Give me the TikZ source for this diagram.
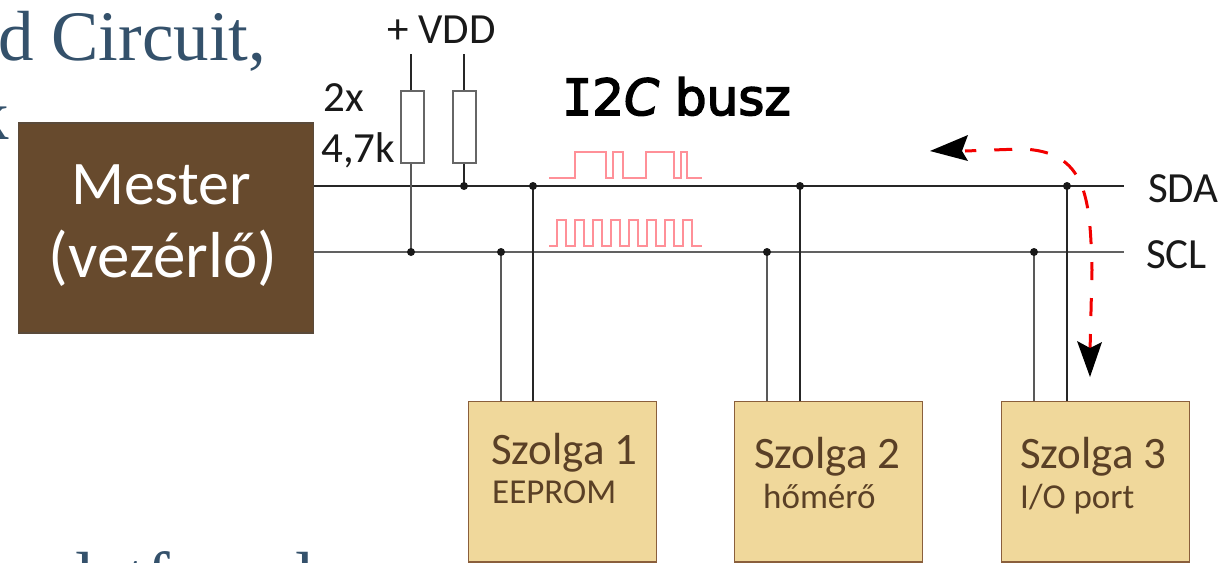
\documentclass[tikz,border=0pt]{standalone}
\usepackage{fontspec}
\setmainfont{Carlito}
\newfontfamily\serifbg{Liberation Serif}
\newfontfamily\comicf[FakeBold=3]{DejaVu Sans}
\newfontfamily\comicm[FakeBold=3]{DejaVu Sans Mono}
\definecolor{bgtext}{HTML}{34516B}
\definecolor{master}{HTML}{674A2D}
\definecolor{masterline}{HTML}{5A4A3A}
\definecolor{slavefill}{HTML}{F0D89B}
\definecolor{slaveline}{HTML}{8A5F3C}
\definecolor{slavetext}{HTML}{5A4026}
\definecolor{sigred}{HTML}{FF9098}
\tikzset{
  x=1pt,y=-1pt,
  bus/.style={line width=2pt,draw=black!85},
  sclbus/.style={line width=2.6pt,draw=black!62},
  wire/.style={line width=1.8pt,draw=black!85},
  sclwire/.style={line width=2.2pt,draw=black!65},
  dot/.style={circle,fill=black!90,inner sep=0pt,minimum size=8pt},
  res/.style={draw=black!60,fill=white,line width=2pt,minimum width=23pt,minimum height=72pt,inner sep=0pt},
  slavebox/.style={draw=slaveline,fill=slavefill,line width=1.8pt,minimum width=188pt,minimum height=160.5pt,inner sep=0pt},
  lab/.style={font=\fontsize{43}{43}\selectfont,text=black!90,inner sep=0pt,anchor=base west},
  slabel/.style={font=\fontsize{45}{45}\selectfont,text=slavetext,inner sep=0pt,anchor=base west},
  ssub/.style={font=\fontsize{35}{35}\selectfont,text=slavetext,inner sep=0pt,anchor=base west},
  bgserif/.style={font=\serifbg\fontsize{71}{71}\selectfont,text=bgtext,anchor=base west,inner sep=0pt},
  sig/.style={draw=sigred,line width=1.6pt},
  reddash/.style={draw=red!95!black,line width=3pt,dash pattern=on 18pt off 18pt},
  tipA/.style={fill=black,draw=none}
}
\begin{document}
\begin{tikzpicture}
\useasboundingbox (0,0) rectangle (1231,562);
\begin{scope}
\clip (0,0) rectangle (1231,562);
\node[bgserif] (bgA) at (-2,60) {d Circuit,};
\node[bgserif] (bgB) at (-27,139) {k};
\node[bgserif] (bgC) at (40,601) {platform\hspace{11pt}l};
\end{scope}
% boxes
\node[draw=masterline,fill=master,line width=1.6pt,minimum width=295pt,minimum height=210pt,inner sep=0pt] (mester) at (166,228) {};
\node[font=\fontsize{62}{62}\selectfont,text=white,anchor=base] (mesterA) at (161,204) {Mester};
\node[font=\fontsize{65}{65}\selectfont,text=white,anchor=base] (mesterB) at (163,277) {(vezérlő)};
\node[slavebox,anchor=north west] (s1) at (467.5,400.5) {};
\node[slavebox,anchor=north west] (s2) at (733.5,400.5) {};
\node[slavebox,anchor=north west] (s3) at (1000.5,400.5) {};
\node[slabel] (s1a) at (491,464) {Szolga 1};
\node[ssub] (s1b) at (492,503) {EEPROM};
\node[slabel] (s2a) at (754,468) {Szolga 2};
\node[ssub] (s2b) at (763,508) {hőmérő};
\node[slabel] (s3a) at (1020,468) {Szolga 3};
\node[ssub] (s3b) at (1020,508) {I/O port};
% junction coordinates
\coordinate (rA) at (411,252);
\coordinate (rB) at (464,186);
\coordinate (sdaA) at (533,186);
\coordinate (sdaB) at (800,186);
\coordinate (sdaC) at (1067,186);
\coordinate (sclA) at (501,252);
\coordinate (sclB) at (767,252);
\coordinate (sclC) at (1034,252);
\coordinate (sdaE) at (1124,186);
\coordinate (sclE) at (1124,252);
\coordinate (vA) at (411,54);
\coordinate (vB) at (464,54);
% resistors
\node[res] (r1) at (412.5,127) {};
\node[res] (r2) at (464.5,127) {};
% wires
\draw[sclbus] (mester.east |- sclE) -- (sclE);
\draw[bus] (mester.east |- sdaE) -- (sdaE);
\draw[wire] (vA) -- (vA |- r1.north);
\draw[wire] (vB) -- (vB |- r2.north);
\draw[sclwire] (rA |- r1.south) -- (rA);
\draw[wire] (rB |- r2.south) -- (rB);
\draw[sclwire] (sclA) -- (sclA |- s1.north);
\draw[wire] (sdaA) -- (sdaA |- s1.north);
\draw[sclwire] (sclB) -- (sclB |- s2.north);
\draw[wire] (sdaB) -- (sdaB |- s2.north);
\draw[sclwire] (sclC) -- (sclC |- s3.north);
\draw[wire] (sdaC) -- (sdaC |- s3.north);
\foreach \c in {rA,rB,sdaA,sdaB,sdaC,sclA,sclB,sclC}{\node[dot] at (\c) {};}
% labels
\node[lab] (vdd) at (387,43) {+ VDD};
\node[lab] (two) at (323,111) {2x};
\node[lab] (kohm) at (321,162) {4,7k};
\node[lab] (sda) at (1148,202) {SDA};
\node[lab] (scl) at (1146,268) {SCL};
\node[font=\comicf\fontsize{50}{50}\selectfont,inner sep=0pt,anchor=base west] (title) at (562,115) {{\comicm I}2\textit{C} busz};
% signals
\draw[sig] (549,178) -- (575,178) -- (575,152) -- (606,152) -- (606,178) -- (613,178) -- (613,152) -- (623,152) -- (623,178) -- (646,178) -- (646,152) -- (674,152) -- (674,178) -- (681,178) -- (681,152) -- (687,152) -- (687,178) -- (702,178);
\draw[sig] (549,246) -- (557,246) -- (557,220) -- (566,220) -- (566,246) -- (575,246) -- (575,220) -- (584,220) -- (584,246) -- (593,246) -- (593,220) -- (602,220) -- (602,246) -- (611,246) -- (611,220) -- (620,220) -- (620,246) -- (629,246) -- (629,220) -- (638,220) -- (638,246) -- (647,246) -- (647,220) -- (656,220) -- (656,246) -- (665,246) -- (665,220) -- (674,220) -- (674,246) -- (683,246) -- (683,220) -- (692,220) -- (692,246) -- (702,246);
% arrow
\coordinate (dashS) at (1090,352);
\coordinate (dashE) at (965,151);
\draw[reddash] (dashS) -- (1092,270) .. controls (1090,200) and (1088,150) .. (1020,149) -- (dashE);
\draw[tipA] (930,151) -- (968,135) -- (962,151) -- (968,161) -- cycle;
\draw[tipA] (1090,377) -- (1077,341) -- (1090,348) -- (1102,342) -- cycle;
\end{tikzpicture}
\end{document}
